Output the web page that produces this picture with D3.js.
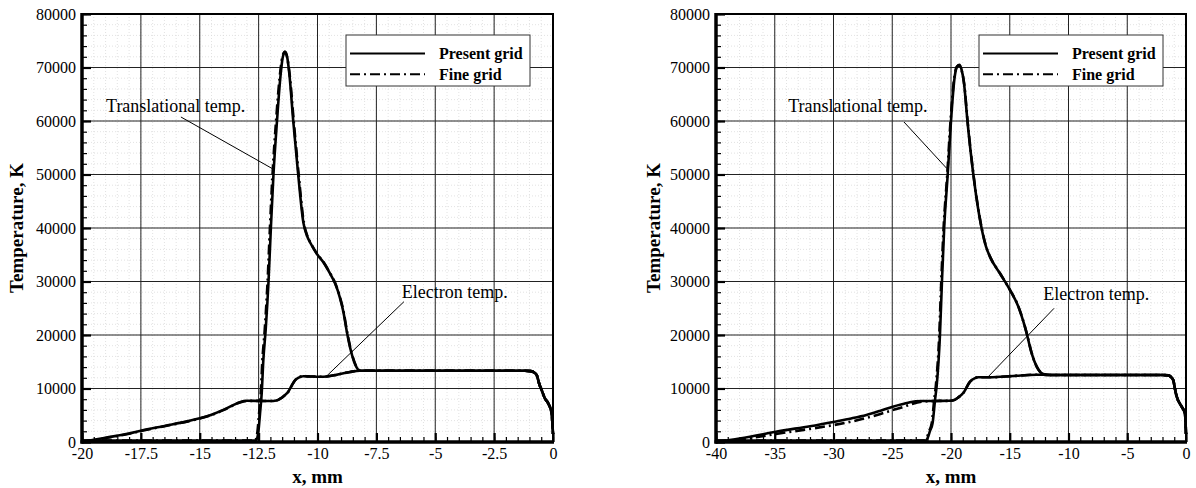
<!DOCTYPE html>
<html>
<head>
<meta charset="utf-8">
<script src="https://d3js.org/d3.v7.min.js"></script>
<style>
body { margin: 0; background: #fff; }
svg { display: block; }
svg text { font-family: "Liberation Serif", "Times New Roman", serif; }
</style>
</head>
<body>
<svg width="1196" height="488"></svg>
<script>
// tick labels
const yTicks = [0, 10000, 20000, 30000, 40000, 50000, 60000, 70000, 80000];
const leftXTicks = [-20, -17.5, -15, -12.5, -10, -7.5, -5, -2.5, 0];
const rightXTicks = [-40, -35, -30, -25, -20, -15, -10, -5, 0];
const legendLabels = ["Present grid", "Fine grid"];

// left panel, [x mm, T K]
const leftTransPresent = [
    [-20, 250], [-16, 250], [-13, 250], [-12.62, 250], [-12.56, 700], [-12.51, 1930], [-12.44, 5360],
    [-12.37, 9100], [-12.3, 15300], [-12.2, 21000], [-12.08, 30000], [-11.98, 40000], [-11.87, 50000],
    [-11.72, 60000], [-11.58, 68000], [-11.48, 71800], [-11.38, 73000], [-11.29, 72000], [-11.2, 69000],
    [-11.03, 60000], [-10.82, 50000], [-10.6, 41000], [-10.45, 38600], [-10.3, 37200], [-10.05, 35300],
    [-9.75, 33600], [-9.47, 31500], [-9.26, 29700], [-9.05, 27000], [-8.9, 24300], [-8.75, 20500],
    [-8.58, 17000], [-8.4, 14500], [-8.2, 13330], [-7, 13330], [-4, 13330], [-1.2, 13330], [-0.95, 13250],
    [-0.8, 13000], [-0.69, 12500], [-0.58, 10800], [-0.48, 9700], [-0.35, 8200], [-0.2, 7200],
    [-0.06, 5400], [0, 1500]
];
const leftTransFine = [
    [-20, 250], [-16, 250], [-13, 250], [-12.66, 250], [-12.6, 700], [-12.55, 1930], [-12.48, 5360],
    [-12.41, 9100], [-12.34, 15300], [-12.24, 21000], [-12.12, 30000], [-12.02, 40000], [-11.91, 50000],
    [-11.76, 60000], [-11.61, 68000], [-11.5, 71800], [-11.39, 72900], [-11.29, 71900], [-11.19, 69000],
    [-11.01, 60000], [-10.8, 50000], [-10.58, 41000], [-10.44, 38600], [-10.29, 37200], [-10.04, 35300],
    [-9.74, 33600], [-9.46, 31500], [-9.25, 29700], [-9.04, 27000], [-8.89, 24300], [-8.74, 20500],
    [-8.57, 17000], [-8.39, 14500], [-8.19, 13330], [-7, 13330], [-4, 13330], [-1.2, 13330], [-0.95, 13250],
    [-0.8, 13000], [-0.69, 12500], [-0.58, 10800], [-0.48, 9700], [-0.35, 8200], [-0.2, 7200],
    [-0.06, 5400], [0, 1500]
];
const leftElecPresent = [
    [-20, 0], [-19, 800], [-18, 1600], [-17.5, 2110], [-16.5, 3000], [-15.5, 3900], [-15, 4430],
    [-14.5, 5100], [-14, 6000], [-13.6, 6850], [-13.3, 7450], [-13, 7700], [-12.5, 7680], [-12, 7650],
    [-11.75, 7750], [-11.6, 8050], [-11.4, 8700], [-11.24, 9400], [-11.1, 10500], [-10.96, 11500],
    [-10.8, 12050], [-10.6, 12300], [-10.3, 12250], [-9.9, 12200], [-9.6, 12250], [-9.2, 12550],
    [-8.62, 13100], [-8.2, 13330], [-7, 13330], [-4, 13330], [-1.2, 13330], [-0.95, 13250],
    [-0.8, 13000], [-0.69, 12500], [-0.58, 10800], [-0.48, 9700], [-0.35, 8200], [-0.2, 7200],
    [-0.06, 5400], [0, 1500]
];
const leftElecFine = [
    [-20, 0], [-19, 750], [-18, 1550], [-17.5, 2050], [-16.5, 2950], [-15.5, 3850], [-15, 4380],
    [-14.5, 5050], [-14, 5950], [-13.6, 6800], [-13.3, 7400], [-13, 7680], [-12.5, 7680], [-12, 7650],
    [-11.75, 7750], [-11.6, 8050], [-11.4, 8700], [-11.24, 9400], [-11.1, 10500], [-10.96, 11500],
    [-10.8, 12050], [-10.6, 12300], [-10.3, 12250], [-9.9, 12200], [-9.6, 12250], [-9.2, 12550],
    [-8.62, 13100], [-8.2, 13330], [-7, 13330], [-4, 13330], [-1.2, 13330], [-0.95, 13250],
    [-0.8, 13000], [-0.69, 12500], [-0.58, 10800], [-0.48, 9700], [-0.35, 8200], [-0.2, 7200],
    [-0.06, 5400], [0, 1500]
];

// right panel, [x mm, T K]
const rightTransPresent = [
    [-40, 250], [-30, 250], [-23, 250], [-22.15, 250], [-22.0, 700], [-21.8, 2000], [-21.57, 3500],
    [-21.36, 7850], [-21.22, 10500], [-20.94, 20000], [-20.77, 30000], [-20.58, 40000], [-20.28, 50000],
    [-20.0, 60000], [-19.7, 68000], [-19.5, 70100], [-19.3, 70500], [-19.1, 69600], [-18.89, 67000],
    [-18.6, 60000], [-18.1, 50000], [-17.4, 40000], [-17.02, 36500], [-16.68, 34600], [-15.83, 31500],
    [-14.98, 28400], [-14.27, 25300], [-13.8, 22200], [-13.56, 20300], [-13.14, 16600], [-12.71, 14100],
    [-12.14, 12700], [-11.5, 12520], [-6, 12520], [-2, 12520], [-1.5, 12450], [-1.3, 12200],
    [-1.09, 11600], [-0.9, 9500], [-0.79, 8500], [-0.37, 6600], [-0.09, 5400], [0, 1500]
];
const rightTransFine = [
    [-40, 250], [-30, 250], [-23, 250], [-22.22, 250], [-22.07, 700], [-21.87, 2000], [-21.64, 3500],
    [-21.43, 7850], [-21.29, 10500], [-21.0, 20000], [-20.83, 30000], [-20.63, 40000], [-20.32, 50000],
    [-20.04, 60000], [-19.73, 68000], [-19.52, 70100], [-19.31, 70400], [-19.1, 69500], [-18.88, 67000],
    [-18.59, 60000], [-18.09, 50000], [-17.39, 40000], [-17.01, 36500], [-16.67, 34600], [-15.82, 31500],
    [-14.97, 28400], [-14.26, 25300], [-13.79, 22200], [-13.55, 20300], [-13.13, 16600], [-12.7, 14100],
    [-12.13, 12700], [-11.5, 12520], [-6, 12520], [-2, 12520], [-1.5, 12450], [-1.3, 12200],
    [-1.09, 11600], [-0.9, 9500], [-0.79, 8500], [-0.37, 6600], [-0.09, 5400], [0, 1500]
];
const rightElecPresent = [
    [-40, 0], [-38, 650], [-36, 1450], [-34.9, 1930], [-32, 2950], [-29.9, 3800], [-28.5, 4400],
    [-27.2, 5050], [-26, 5850], [-24.96, 6600], [-24, 7150], [-23.5, 7420], [-22.5, 7650], [-21, 7680],
    [-20.2, 7700], [-19.79, 7800], [-19.4, 8300], [-18.94, 9200], [-18.38, 11270], [-18, 11900],
    [-17.68, 12090], [-16.68, 12090], [-14.7, 12340], [-12.71, 12580], [-12.14, 12560], [-11.5, 12520],
    [-6, 12520], [-2, 12520], [-1.5, 12450], [-1.3, 12200], [-1.09, 11600], [-0.9, 9500], [-0.79, 8500],
    [-0.37, 6600], [-0.09, 5400], [0, 1500]
];
const rightElecFine = [
    [-40, 0], [-38, 450], [-36, 1100], [-34.9, 1500], [-32, 2450], [-29.9, 3200], [-28.5, 3800],
    [-27.2, 4500], [-26, 5250], [-24.96, 5950], [-24, 6600], [-23.5, 7000], [-22.5, 7550], [-21, 7680],
    [-20.2, 7700], [-19.79, 7800], [-19.4, 8300], [-18.94, 9200], [-18.38, 11270], [-18, 11900],
    [-17.68, 12090], [-16.68, 12090], [-14.7, 12340], [-12.71, 12580], [-12.14, 12560], [-11.5, 12520],
    [-6, 12520], [-2, 12520], [-1.5, 12450], [-1.3, 12200], [-1.09, 11600], [-0.9, 9500], [-0.79, 8500],
    [-0.37, 6600], [-0.09, 5400], [0, 1500]
];

// labels with leader lines, in data units
const leftNotes = [
    { text: "Translational temp.", at: [-18.98, 61700], from: [-15.8, 60750], to: [-11.89, 51030] },
    { text: "Electron temp.", at: [-6.42, 26860], from: [-6.33, 26224], to: [-9.64, 12206] }
];
const rightNotes = [
    { text: "Translational temp.", at: [-33.85, 61680], from: [-24.0, 59813], to: [-20.37, 51159] },
    { text: "Electron temp.", at: [-12.14, 26540], from: [-11.23, 24990], to: [-16.83, 12206] }
];

const serif = "Liberation Serif, Times New Roman, serif";
const svg = d3.select("svg");
svg.append("rect").attr("width", 1196).attr("height", 488).attr("fill", "#fff");

drawPanel({
    left: 82, top: 14, width: 471, height: 428,
    xDomain: [-20, 0], xTicks: leftXTicks, xMinor: d3.range(-20, 0.001, 0.5),
    present: [leftTransPresent, leftElecPresent], fine: [leftTransFine, leftElecFine],
    notes: leftNotes, ylabelOffset: 59
});
drawPanel({
    left: 716, top: 14, width: 470, height: 428,
    xDomain: [-40, 0], xTicks: rightXTicks, xMinor: d3.range(-40, 0.001, 1),
    present: [rightTransPresent, rightElecPresent], fine: [rightTransFine, rightElecFine],
    notes: rightNotes, ylabelOffset: 56
});

function drawPanel(p) {
    const g = svg.append("g")
        .attr("transform", `translate(${p.left},${p.top})`)
        .attr("font-family", serif);
    const x = d3.scaleLinear().domain(p.xDomain).range([0, p.width]);
    const y = d3.scaleLinear().domain([0, 80000]).range([p.height, 0]);
    const yMinor = d3.range(0, 80001, 2000);

    // minor dotted grid
    g.append("g").selectAll("line").data(p.xMinor).enter().append("line")
        .attr("x1", d => x(d)).attr("x2", d => x(d)).attr("y1", 0).attr("y2", p.height)
        .attr("stroke", "#dadada").attr("stroke-width", 0.8).attr("stroke-dasharray", "1,2");
    g.append("g").selectAll("line").data(yMinor).enter().append("line")
        .attr("y1", d => y(d)).attr("y2", d => y(d)).attr("x1", 0).attr("x2", p.width)
        .attr("stroke", "#dadada").attr("stroke-width", 0.8).attr("stroke-dasharray", "1,2");

    // major grid
    g.append("g").selectAll("line").data(p.xTicks).enter().append("line")
        .attr("x1", d => x(d)).attr("x2", d => x(d)).attr("y1", 0).attr("y2", p.height)
        .attr("stroke", "#222").attr("stroke-width", 1);
    g.append("g").selectAll("line").data(yTicks).enter().append("line")
        .attr("y1", d => y(d)).attr("y2", d => y(d)).attr("x1", 0).attr("x2", p.width)
        .attr("stroke", "#222").attr("stroke-width", 1);

    // curves
    const line = d3.line()
        .x(d => x(d[0]))
        .y(d => y(d[1]))
        .curve(d3.curveMonotoneX);

    p.fine.forEach(s => {
        g.append("path").datum(s).attr("d", line)
            .attr("fill", "none").attr("stroke", "#000").attr("stroke-width", 2.6)
            .attr("stroke-dasharray", "10,4,2,4");
    });
    p.present.forEach(s => {
        g.append("path").datum(s).attr("d", line)
            .attr("fill", "none").attr("stroke", "#000").attr("stroke-width", 2.6);
    });

    // frame
    g.append("rect").attr("width", p.width).attr("height", p.height)
        .attr("fill", "none").attr("stroke", "#000").attr("stroke-width", 2);

    // axes, ticks inside
    const yAxis = g.append("g")
        .call(d3.axisLeft(y).tickValues(yTicks).tickSize(-9).tickPadding(6).tickFormat(d => String(d)));
    g.append("g")
        .call(d3.axisLeft(y).tickValues(yMinor).tickSize(-5).tickFormat(""));
    const xAxis = g.append("g").attr("transform", `translate(0,${p.height})`)
        .call(d3.axisBottom(x).tickValues(p.xTicks).tickSize(-9).tickPadding(6).tickFormat(d => String(d)));
    g.append("g").attr("transform", `translate(0,${p.height})`)
        .call(d3.axisBottom(x).tickValues(p.xMinor).tickSize(-5).tickFormat(""));

    g.selectAll(".domain").remove();
    g.selectAll(".tick line").attr("stroke", "#000").attr("stroke-width", 1.2);
    yAxis.selectAll(".tick line").attr("stroke-width", 2.2);
    xAxis.selectAll(".tick line").attr("stroke-width", 2.2);
    g.selectAll("g").attr("font-family", serif);
    g.selectAll(".tick text").attr("font-size", 16).attr("fill", "#000");

    g.append("line").attr("x1", 0).attr("x2", 0).attr("y1", -1).attr("y2", p.height + 1.5)
        .attr("stroke", "#000").attr("stroke-width", 3.5);
    g.append("line").attr("x1", -1.5).attr("x2", p.width + 1).attr("y1", p.height).attr("y2", p.height)
        .attr("stroke", "#000").attr("stroke-width", 3.5);

    // axis titles
    g.append("text")
        .attr("transform", `translate(${-p.ylabelOffset},${p.height / 2}) rotate(-90)`)
        .attr("text-anchor", "middle").attr("font-weight", "bold").attr("font-size", 19)
        .text("Temperature, K");
    g.append("text")
        .attr("x", p.width / 2).attr("y", p.height + 41)
        .attr("text-anchor", "middle").attr("font-weight", "bold").attr("font-size", 19)
        .text("x, mm");

    // annotations
    p.notes.forEach(n => {
        g.append("line")
            .attr("x1", x(n.from[0])).attr("y1", y(n.from[1]))
            .attr("x2", x(n.to[0])).attr("y2", y(n.to[1]))
            .attr("stroke", "#000").attr("stroke-width", 1);
        g.append("text")
            .attr("x", x(n.at[0])).attr("y", y(n.at[1]))
            .attr("font-size", 18)
            .text(n.text);
    });

    // legend
    const lg = g.append("g").attr("transform", `translate(${p.width - 207},21)`);
    lg.append("rect").attr("width", 184).attr("height", 51)
        .attr("fill", "#fff").attr("stroke", "#333").attr("stroke-width", 1);
    legendLabels.forEach((label, i) => {
        const ly = 18.5 + i * 20.7;
        lg.append("line").attr("x1", 4).attr("x2", 79).attr("y1", ly).attr("y2", ly)
            .attr("stroke", "#000").attr("stroke-width", 2)
            .attr("stroke-dasharray", i === 0 ? null : "10,4,2,4");
        lg.append("text").attr("x", 93).attr("y", ly + 5.5)
            .attr("font-weight", "bold").attr("font-size", 16)
            .text(label);
    });
}
</script>
</body>
</html>
